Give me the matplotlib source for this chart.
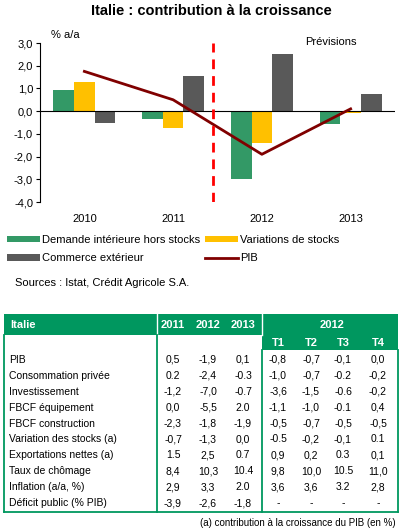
import numpy as np
import matplotlib
matplotlib.use("Agg")
import matplotlib.pyplot as plt
from matplotlib.patches import Rectangle

plt.rcParams['font.family'] = ['Liberation Sans', 'DejaVu Sans']

# --- données du graphique ---
annees = ['2010', '2011', '2012', '2013']
demande_int = [0.95, -0.35, -3.0, -0.55]
var_stocks = [1.3, -0.75, -1.4, -0.1]
commerce_ext = [-0.5, 1.55, 2.5, 0.75]
pib = [1.75, 0.5, -1.9, 0.1]
y_ticks = [3, 2, 1, 0, -1, -2, -3, -4]

# --- données du tableau ---
lignes = ['PIB', 'Consommation privée', 'Investissement', 'FBCF équipement',
          'FBCF construction', 'Variation des stocks (a)', 'Exportations nettes (a)',
          'Taux de chômage', 'Inflation (a/a, %)', 'Déficit public (% PIB)']
col_annees = ['2011', '2012', '2013']
col_trim = ['T1', 'T2', 'T3', 'T4']
val_annees = [
    ['0,5', '-1,9', '0,1'],
    ['0.2', '-2,4', '-0.3'],
    ['-1,2', '-7,0', '-0.7'],
    ['0,0', '-5,5', '2.0'],
    ['-2,3', '-1,8', '-1,9'],
    ['-0,7', '-1,3', '0,0'],
    ['1.5', '2,5', '0.7'],
    ['8,4', '10,3', '10.4'],
    ['2,9', '3,3', '2.0'],
    ['-3,9', '-2,6', '-1,8'],
]
val_trim = [
    ['-0,8', '-0,7', '-0,1', '0,0'],
    ['-1,0', '-0,7', '-0.2', '-0,2'],
    ['-3,6', '-1,5', '-0.6', '-0,2'],
    ['-1,1', '-1,0', '-0.1', '0,4'],
    ['-0,5', '-0,7', '-0,5', '-0,5'],
    ['-0.5', '-0,2', '-0,1', '0.1'],
    ['0,9', '0,2', '0.3', '0,1'],
    ['9,8', '10,0', '10.5', '11,0'],
    ['3,6', '3,6', '3.2', '2,8'],
    ['-', '-', '-', '-'],
]

VERT = '#339966'
JAUNE = '#FFC000'
GRIS = '#595959'
BORDEAUX = '#800000'
VERT_TAB = '#00975F'

W, H = 402, 530
fig = plt.figure(figsize=(W / 100, H / 100), dpi=100)

# axes du graphique (coordonnées en pixels converties)
x0, x1, ytop, ybot = 40, 395, 43, 202
ax = fig.add_axes([x0 / W, 1 - ybot / H, (x1 - x0) / W, (ybot - ytop) / H])

x = np.arange(len(annees))
w = 0.232
b1 = ax.bar(x - w, demande_int, w, color=VERT, label='Demande intérieure hors stocks')
b2 = ax.bar(x, var_stocks, w, color=JAUNE, label='Variations de stocks')
b3 = ax.bar(x + w, commerce_ext, w, color=GRIS, label='Commerce extérieur')
l1, = ax.plot(x, pib, color=BORDEAUX, lw=2.0, label='PIB', zorder=4)
ax.axvline(1.45, color='#FF0000', lw=2.0, ls=(0, (3.5, 2.5)), zorder=5)
ax.axhline(0, color='black', lw=0.8, zorder=3)

ax.set_xlim(-0.5, 3.5)
ax.set_ylim(-4, 3)
ax.set_yticks(y_ticks)
ax.set_yticklabels([f'{v:.1f}'.replace('.', ',') for v in y_ticks])
ax.set_xticks(x)
ax.set_xticklabels(annees)
for s in ['top', 'right', 'bottom']:
    ax.spines[s].set_visible(False)
ax.spines['left'].set_linewidth(0.8)
ax.tick_params(axis='y', direction='out', length=3, width=0.8, labelsize=8, pad=2)
ax.tick_params(axis='x', length=0, labelsize=8, pad=9)

fig.text(211 / W, 1 - 11 / H, 'Italie : contribution à la croissance',
         ha='center', va='center', fontsize=10.5, fontweight='bold')
fig.text(51 / W, 1 - 35 / H, '% a/a', ha='left', va='center', fontsize=8)
fig.text(305 / W, 1 - 42 / H, 'Prévisions', ha='left', va='center', fontsize=8)

# légende : colonne 1 = vert, gris ; colonne 2 = jaune, PIB
fig.legend([b1, b3, b2, l1],
           [b1.get_label(), b3.get_label(), b2.get_label(), l1.get_label()],
           ncol=2, loc='upper left', bbox_to_anchor=(7 / W, 1 - 235 / H),
           frameon=False, fontsize=8, handlelength=3.0, handleheight=0.55,
           handletextpad=0.15, columnspacing=0.45, labelspacing=0.75,
           borderaxespad=0, borderpad=0)

fig.text(15 / W, 1 - 283 / H, 'Sources : Istat, Crédit Agricole S.A.',
         ha='left', va='center', fontsize=8)

# tableau, dessiné dans une couche en pixels
tb = fig.add_axes([0, 0, 1, 1])
tb.set_xlim(0, W)
tb.set_ylim(H, 0)
tb.axis('off')

L, R, S1, S2 = 4, 398, 157, 262
TOP, HB, TB, BOT = 314, 335, 350, 512
tb.add_patch(Rectangle((L, TOP), R - L, HB - TOP, color=VERT_TAB, lw=0))
tb.add_patch(Rectangle((S2, HB), R - S2, TB - HB, color=VERT_TAB, lw=0))
tb.plot([S1, S1], [TOP, HB], color='white', lw=1)
tb.plot([S2, S2], [TOP, HB], color='white', lw=1)
for xs, y_a in [(L, HB), (S1, HB), (S2, TB), (R, TB)]:
    tb.plot([xs, xs], [y_a, BOT], color=VERT_TAB, lw=1.3)
tb.plot([L, R], [BOT, BOT], color=VERT_TAB, lw=1.3)

fs = 7.5
tb.text(10, 324.5, 'Italie', color='white', fontsize=8, fontweight='bold', va='center')
xa = [173, 208, 243]
xt = [278, 311, 343, 378]
for xx, c in zip(xa, col_annees):
    tb.text(xx, 324.5, c, color='white', fontsize=8, fontweight='bold', ha='center', va='center')
tb.text(332, 324.5, '2012', color='white', fontsize=8, fontweight='bold', ha='center', va='center')
for xx, c in zip(xt, col_trim):
    tb.text(xx, 343, c, color='white', fontsize=8, fontweight='bold', ha='center', va='center')

y0, dy = 360, 15.9
for i, nom in enumerate(lignes):
    yy = y0 + i * dy
    tb.text(9, yy, nom, fontsize=fs, va='center')
    for xx, v in zip(xa, val_annees[i]):
        tb.text(xx, yy, v, fontsize=fs, ha='center', va='center')
    for xx, v in zip(xt, val_trim[i]):
        tb.text(xx, yy, v, fontsize=fs, ha='center', va='center')

tb.text(R - 2, 523, '(a) contribution à la croissance du PIB (en %)',
        fontsize=7, ha='right', va='center')

fig.savefig('out.png', dpi=100)
